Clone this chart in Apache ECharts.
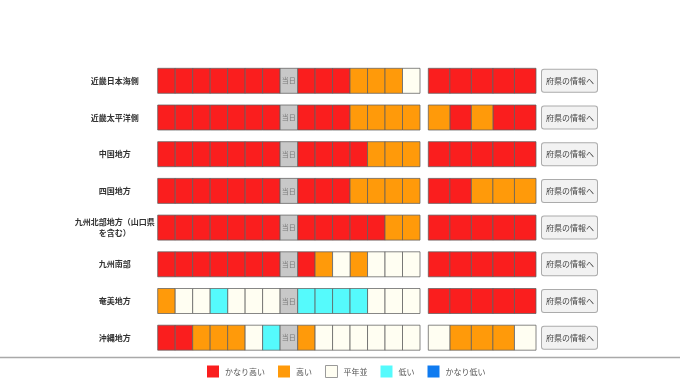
<!DOCTYPE html>
<html>
<head>
<meta charset="utf-8">
<script src="https://cdn.jsdelivr.net/npm/echarts@6/dist/echarts.min.js"></script>
<style>
html,body{margin:0;padding:0;background:#fff;}
#chart{width:680px;height:382px;}
</style>
</head>
<body>
<div id="chart"></div>
<script>
// ---- data ----
const regions = ['近畿日本海側','近畿太平洋側','中国地方','四国地方','九州北部地方（山口県を含む）','九州南部','奄美地方','沖縄地方'];
const levels = ['かなり高い','高い','平年並','低い','かなり低い'];
const levelColors = ['#FA1E1E','#FF9A0A','#FFFEF2','#55FAFC','#0F7BF0'];
const days = ['-7','-6','-5','-4','-3','-2','-1','当日','+1','+2','+3','+4','+5','+6','+7'];
const todayLabel = '当日';
const periods = ['1','2','3','4','5'];
const buttonText = '府県の情報へ';
// level index per day (0=かなり高い ... 4=かなり低い), null = 当日
const dailyLevels = [
  [0,0,0,0,0,0,0,null,0,0,0,1,1,1,2],
  [0,0,0,0,0,0,0,null,0,0,0,1,1,1,1],
  [0,0,0,0,0,0,0,null,0,0,0,0,1,1,1],
  [0,0,0,0,0,0,0,null,0,0,0,1,1,1,1],
  [0,0,0,0,0,0,0,null,0,0,0,0,0,1,1],
  [0,0,0,0,0,0,0,null,0,1,2,1,2,2,2],
  [1,2,2,3,2,2,2,null,3,3,3,3,2,2,2],
  [0,0,1,1,1,2,3,null,1,2,2,2,2,2,2]
];
const periodLevels = [
  [0,0,0,0,0],
  [1,0,1,0,0],
  [0,0,0,0,0],
  [0,0,1,1,1],
  [0,0,0,0,0],
  [0,0,0,0,0],
  [0,0,0,0,0],
  [2,1,1,1,2]
];

// ---- chart ----
const FONT = '"Noto Sans CJK JP", "Noto Sans", sans-serif';
const chart = echarts.init(document.getElementById('chart'), null, {renderer:'canvas'});
const CELL_H = 25;

function renderCell(params, api) {
  const p = api.coord([api.value(0), api.value(1)]);
  const w = api.size([1, 0])[0];
  return {
    type: 'rect',
    shape: {x: p[0] - w / 2, y: p[1] - CELL_H / 2, width: w, height: CELL_H},
    style: {fill: api.visual('color'), stroke: 'rgba(95,95,95,0.75)', lineWidth: 1}
  };
}
function renderToday(params, api) {
  const p = api.coord([api.value(0), api.value(1)]);
  const w = api.size([1, 0])[0];
  return {
    type: 'group',
    children: [
      {type: 'rect', shape: {x: p[0] - w / 2, y: p[1] - CELL_H / 2, width: w, height: CELL_H},
       style: {fill: '#C8C8C8', stroke: 'rgba(95,95,95,0.75)', lineWidth: 1}},
      {type: 'text', style: {x: p[0], y: p[1], text: todayLabel, fill: '#7a7a7a', fontSize: 7,
        fontFamily: FONT, align: 'center', verticalAlign: 'middle'}}
    ]
  };
}

const series = [];
levels.forEach((name, li) => {
  const d1 = [], d2 = [];
  dailyLevels.forEach((row, r) => row.forEach((v, c) => { if (v === li) d1.push([days[c], regions[r]]); }));
  periodLevels.forEach((row, r) => row.forEach((v, c) => { if (v === li) d2.push([periods[c], regions[r]]); }));
  series.push({type: 'custom', name, xAxisIndex: 0, yAxisIndex: 0, renderItem: renderCell,
    itemStyle: {color: levelColors[li]}, data: d1, silent: true});
  series.push({type: 'custom', name, xAxisIndex: 1, yAxisIndex: 1, renderItem: renderCell,
    itemStyle: {color: levelColors[li]}, data: d2, silent: true});
});
const todayData = [];
dailyLevels.forEach((row, r) => row.forEach((v, c) => { if (v === null) todayData.push([days[c], regions[r]]); }));
series.push({type: 'custom', name: todayLabel, xAxisIndex: 0, yAxisIndex: 0, renderItem: renderToday,
  data: todayData, silent: true});

const gridTop = 62.45, gridH = 293.6;
chart.setOption({
  animation: false,
  backgroundColor: '#ffffff',
  textStyle: {fontFamily: FONT},
  grid: [
    {left: 157.7, top: gridTop, width: 262.3, height: gridH},
    {left: 428.3, top: gridTop, width: 107.7, height: gridH}
  ],
  xAxis: [
    {type: 'category', gridIndex: 0, data: days, show: false},
    {type: 'category', gridIndex: 1, data: periods, show: false}
  ],
  yAxis: [
    {type: 'category', gridIndex: 0, data: regions, inverse: true,
     axisLine: {show: false}, axisTick: {show: false}, splitLine: {show: false},
     axisLabel: {fontSize: 8, fontWeight: 'bold', color: '#333', align: 'center', margin: 43,
       lineHeight: 11, fontFamily: FONT,
       formatter: v => v.length > 10 ? v.slice(0, 10) + '\n' + v.slice(10) : v}},
    {type: 'category', gridIndex: 1, data: regions, inverse: true, position: 'right',
     axisLine: {show: false}, axisTick: {show: false}, splitLine: {show: false},
     axisLabel: {fontSize: 8, color: '#444', align: 'left', margin: 6, fontFamily: FONT,
       formatter: () => buttonText,
       backgroundColor: '#f2f2f2', borderColor: '#ababab', borderWidth: 1, borderRadius: 2,
       padding: [6, 3, 6, 4], lineHeight: 10}}
  ],
  legend: {
    left: 202, top: 360, itemWidth: 12, itemHeight: 12, itemGap: 13, icon: 'rect',
    selectedMode: false,
    textStyle: {fontSize: 8, color: '#555', fontFamily: FONT, padding: [0, 0, 0, 1]},
    data: levels.map((n, i) => i === 2
      ? {name: n, itemStyle: {color: levelColors[i], borderColor: '#9a9a9a', borderWidth: 1}}
      : {name: n, itemStyle: {color: levelColors[i], borderWidth: 0}})
  },
  graphic: [
    {type: 'line', shape: {x1: 0, y1: 357.5, x2: 680, y2: 357.5},
     style: {stroke: '#a9a9a9', lineWidth: 1.5}, silent: true}
  ],
  series
});
</script>
</body>
</html>
